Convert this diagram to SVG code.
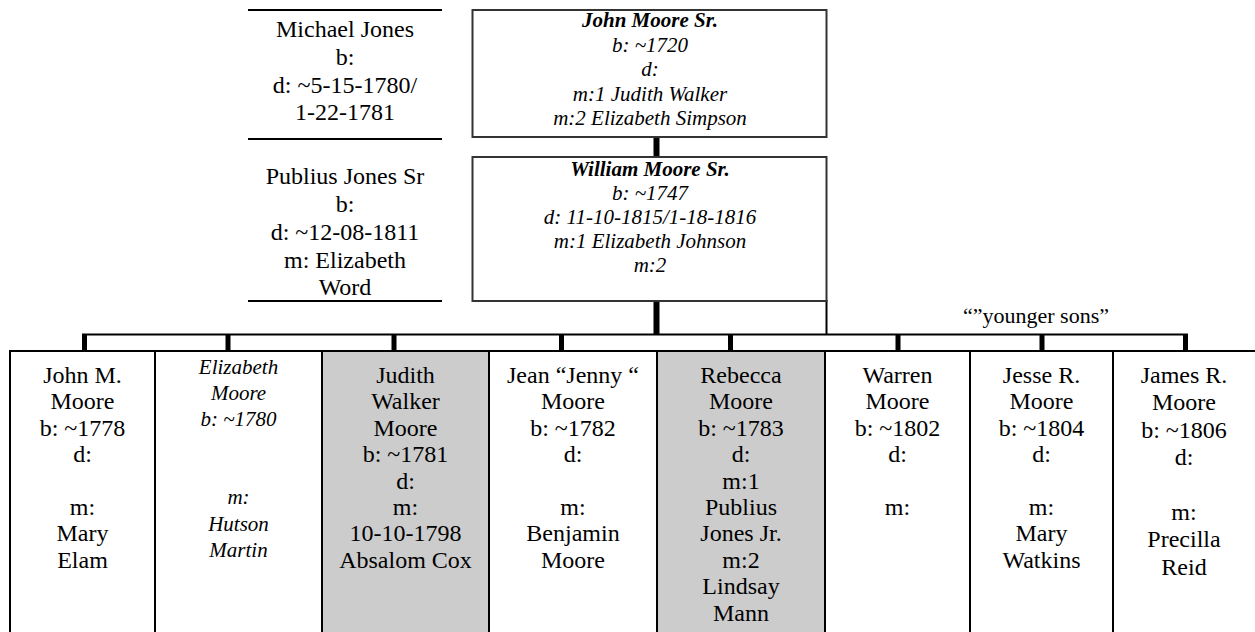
<svg xmlns="http://www.w3.org/2000/svg" width="1255" height="632" viewBox="0 0 1255 632">
<style>
  text { font-family: "Liberation Serif", "DejaVu Serif", serif; fill: #000; text-anchor: middle; }
  .r24 { font-size: 24px; }
  .i21 { font-size: 21px; font-style: italic; }
  .bi { font-weight: bold; }
  .rule { stroke: #000; stroke-width: 2; fill: none; }
  .pbox { fill: #fff; stroke: #333; stroke-width: 2; }
  .cbox { stroke: #000; stroke-width: 2; }
  .white { fill: #fff; }
  .gray { fill: #cccccc; }
  .thick { fill: #000; }
</style>

<g id="connectors">
  <rect class="thick" x="653.5" y="136" width="6" height="22"/>
  <rect class="thick" x="653.5" y="300" width="6" height="35"/>
  <line class="rule" x1="826.5" y1="300" x2="826.5" y2="335"/>
  <line class="rule" x1="82" y1="334.5" x2="1188" y2="334.5"/>
  <rect class="thick" x="82" y="334" width="5" height="17"/>
  <rect class="thick" x="225.5" y="334" width="5" height="17"/>
  <rect class="thick" x="391.5" y="334" width="5" height="17"/>
  <rect class="thick" x="559" y="334" width="5" height="17"/>
  <rect class="thick" x="728" y="334" width="5" height="17"/>
  <rect class="thick" x="895.5" y="334" width="5" height="17"/>
  <rect class="thick" x="1039.5" y="334" width="5" height="17"/>
  <rect class="thick" x="1183" y="334" width="5" height="17"/>
  <text font-family="Liberation Serif, serif" x="1036" y="323" font-size="22">“”younger sons”</text>
</g>

<g id="michael-jones">
  <line class="rule" x1="248" y1="10" x2="442" y2="10"/>
  <line class="rule" x1="248" y1="139" x2="442" y2="139"/>
  <text class="r24" font-family="Liberation Serif, serif"><tspan x="345" y="37">Michael Jones</tspan><tspan x="345" y="65">b:</tspan><tspan x="345" y="93">d: ~5-15-1780/</tspan><tspan x="345" y="120">1-22-1781</tspan></text>
</g>

<g id="publius-jones-sr">
  <line class="rule" x1="248" y1="301" x2="442" y2="301"/>
  <text class="r24"><tspan x="345" y="184">Publius Jones Sr</tspan><tspan x="345" y="212">b:</tspan><tspan x="345" y="240">d: ~12-08-1811</tspan><tspan x="345" y="268">m: Elizabeth</tspan><tspan x="345" y="295">Word</tspan></text>
</g>

<g id="john-moore-sr">
  <rect class="pbox" x="472.5" y="10" width="354" height="127"/>
  <text class="i21"><tspan class="bi" x="650" y="27">John Moore Sr.</tspan><tspan x="650" y="51.5">b: ~1720</tspan><tspan x="650" y="76">d:</tspan><tspan x="650" y="100.5">m:1 Judith Walker</tspan><tspan x="650" y="125">m:2 Elizabeth Simpson</tspan></text>
</g>

<g id="william-moore-sr">
  <rect class="pbox" x="472.5" y="157" width="354" height="144"/>
  <text class="i21"><tspan class="bi" x="650" y="176">William Moore Sr.</tspan><tspan x="650" y="200">b: ~1747</tspan><tspan x="650" y="224">d: 11-10-1815/1-18-1816</tspan><tspan x="650" y="248">m:1 Elizabeth Johnson</tspan><tspan x="650" y="272">m:2</tspan></text>
</g>

<g id="john-m-moore">
  <rect class="cbox white" x="10" y="351" width="145" height="290"/>
  <text class="r24"><tspan x="82.5" y="383">John M.</tspan><tspan x="82.5" y="409.4">Moore</tspan><tspan x="82.5" y="435.8">b: ~1778</tspan><tspan x="82.5" y="462.2">d:</tspan><tspan x="82.5" y="515">m:</tspan><tspan x="82.5" y="541.4">Mary</tspan><tspan x="82.5" y="567.8">Elam</tspan></text>
</g>

<g id="elizabeth-moore">
  <rect class="cbox white" x="155" y="351" width="167" height="290"/>
  <text class="i21"><tspan x="238.5" y="374">Elizabeth</tspan><tspan x="238.5" y="400">Moore</tspan><tspan x="238.5" y="426">b: ~1780</tspan><tspan x="238.5" y="504">m:</tspan><tspan x="238.5" y="531">Hutson</tspan><tspan x="238.5" y="557">Martin</tspan></text>
</g>

<g id="judith-walker-moore">
  <rect class="cbox gray" x="322" y="351" width="167" height="290"/>
  <text class="r24"><tspan x="405.5" y="383">Judith</tspan><tspan x="405.5" y="409.4">Walker</tspan><tspan x="405.5" y="435.8">Moore</tspan><tspan x="405.5" y="462.2">b: ~1781</tspan><tspan x="405.5" y="488.6">d:</tspan><tspan x="405.5" y="515">m:</tspan><tspan x="405.5" y="541.4">10-10-1798</tspan><tspan x="405.5" y="567.8">Absalom Cox</tspan></text>
</g>

<g id="jean-jenny-moore">
  <rect class="cbox white" x="489" y="351" width="168" height="290"/>
  <text class="r24"><tspan x="573" y="383">Jean “Jenny “</tspan><tspan x="573" y="409.4">Moore</tspan><tspan x="573" y="435.8">b: ~1782</tspan><tspan x="573" y="462.2">d:</tspan><tspan x="573" y="515">m:</tspan><tspan x="573" y="541.4">Benjamin</tspan><tspan x="573" y="567.8">Moore</tspan></text>
</g>

<g id="rebecca-moore">
  <rect class="cbox gray" x="657" y="351" width="168" height="290"/>
  <text class="r24"><tspan x="741" y="383">Rebecca</tspan><tspan x="741" y="409.4">Moore</tspan><tspan x="741" y="435.8">b: ~1783</tspan><tspan x="741" y="462.2">d:</tspan><tspan x="741" y="488.6">m:1</tspan><tspan x="741" y="515">Publius</tspan><tspan x="741" y="541.4">Jones Jr.</tspan><tspan x="741" y="567.8">m:2</tspan><tspan x="741" y="594.2">Lindsay</tspan><tspan x="741" y="620.6">Mann</tspan></text>
</g>

<g id="warren-moore">
  <rect class="cbox white" x="825" y="351" width="145" height="290"/>
  <text class="r24"><tspan x="897.5" y="383">Warren</tspan><tspan x="897.5" y="409.4">Moore</tspan><tspan x="897.5" y="435.8">b: ~1802</tspan><tspan x="897.5" y="462.2">d:</tspan><tspan x="897.5" y="515">m:</tspan></text>
</g>

<g id="jesse-r-moore">
  <rect class="cbox white" x="970" y="351" width="143" height="290"/>
  <text class="r24"><tspan x="1041.5" y="383">Jesse R.</tspan><tspan x="1041.5" y="409.4">Moore</tspan><tspan x="1041.5" y="435.8">b: ~1804</tspan><tspan x="1041.5" y="462.2">d:</tspan><tspan x="1041.5" y="515">m:</tspan><tspan x="1041.5" y="541.4">Mary</tspan><tspan x="1041.5" y="567.8">Watkins</tspan></text>
</g>

<g id="james-r-moore">
  <rect class="cbox white" x="1113" y="351" width="160" height="290"/>
  <text class="r24"><tspan x="1184" y="383">James R.</tspan><tspan x="1184" y="410.4">Moore</tspan><tspan x="1184" y="437.8">b: ~1806</tspan><tspan x="1184" y="465.2">d:</tspan><tspan x="1184" y="520">m:</tspan><tspan x="1184" y="547.4">Precilla</tspan><tspan x="1184" y="574.8">Reid</tspan></text>
</g>
</svg>
